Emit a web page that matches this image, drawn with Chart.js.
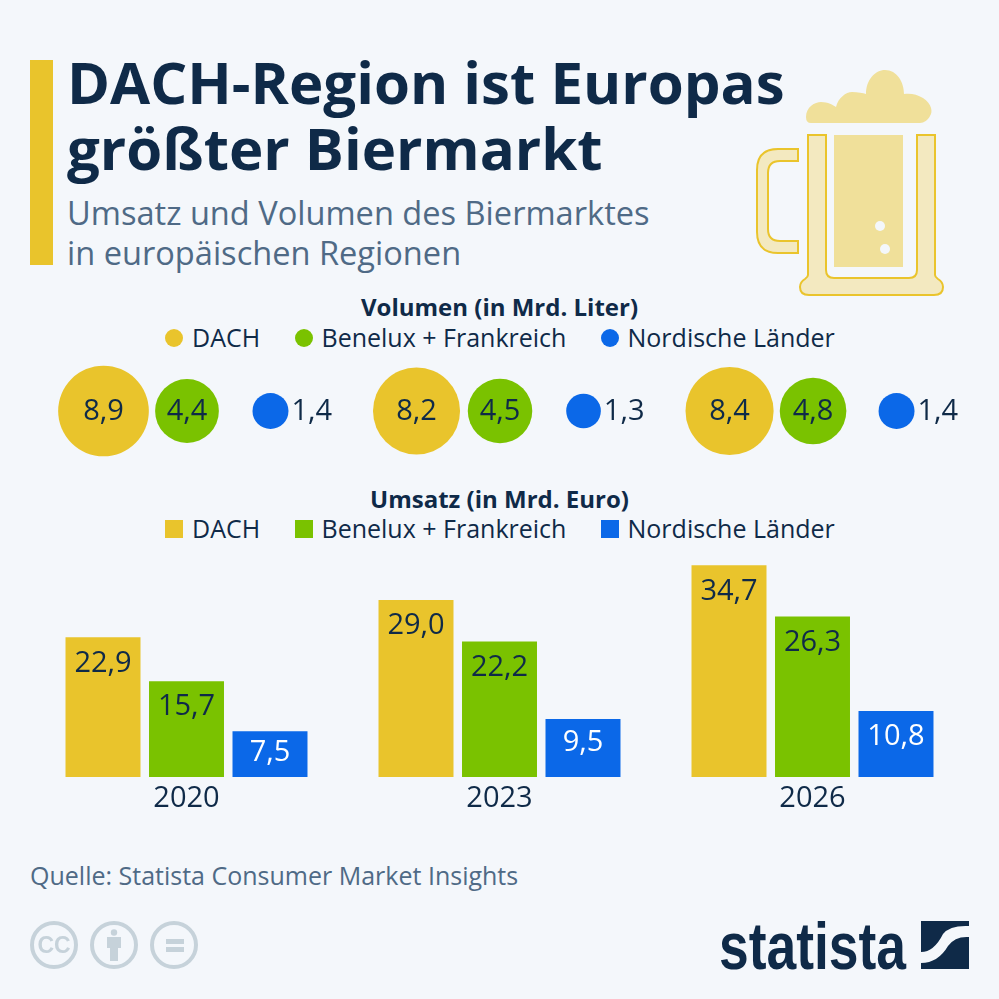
<!DOCTYPE html>
<html lang="de">
<head>
<meta charset="utf-8">
<title>DACH-Region ist Europas größter Biermarkt</title>
<script src="https://cdn.jsdelivr.net/npm/chart.js@4/dist/chart.umd.min.js"></script>
<style>
    html, body { margin: 0; padding: 0; background: #f4f7fb; }
    body { position: relative; width: 999px; height: 999px; overflow: hidden; font-family: 'Open Sans', sans-serif; color: #0f2a48; }
    .abs { position: absolute; white-space: nowrap; }
    canvas { position: absolute; }
    #accent { left: 30px; top: 60px; width: 23px; height: 205px; background: #e9c42c; }
    .title { left: 67px; font-size: 58.2px; line-height: 66px; font-weight: 700; color: #0f2a48; }
    .subtitle { left: 67px; font-size: 32.6px; line-height: 40px; color: #4f6a86; }
    .section { left: 0; width: 999px; text-align: center; font-size: 24px; line-height: 30px; font-weight: 700; }
    .legend-item { display: flex; align-items: center; height: 30px; font-size: 25px; color: #0f2a48; }
    .legend-mark { position: relative; top: 1px; width: 18px; height: 18px; margin-right: 9px; }
    #source { left: 30px; top: 859px; font-size: 25px; line-height: 32px; color: #4f6a86; }
    svg { position: absolute; left: 0; top: 0; }
</style>
</head>
<body>
<div id="accent" class="abs"></div>
<div class="abs title" style="top:49px">DACH-Region ist Europas</div>
<div class="abs title" style="top:115px">größter Biermarkt</div>
<div class="abs subtitle" style="top:193px">Umsatz und Volumen des Biermarktes</div>
<div class="abs subtitle" style="top:233px">in europäischen Regionen</div>

<div class="abs section" style="top:292px">Volumen (in Mrd. Liter)</div>
<div id="legend-volume"></div>
<canvas id="volume-chart" width="999" height="110" style="left:0;top:356px"></canvas>

<div class="abs section" style="top:484px">Umsatz (in Mrd. Euro)</div>
<div id="legend-revenue"></div>
<canvas id="revenue-chart" width="939" height="284" style="left:30.4px;top:533px"></canvas>

<div id="source" class="abs">Quelle: Statista Consumer Market Insights</div>

<svg width="999" height="999" viewBox="0 0 999 999">
    <!-- beer mug -->
    <g fill="#f0e09a">
        <path d="M811 123 Q806 123 806 117 C806 107 815 102 821 102 C828 102 833 105 836 107 C838 98 846 92 852 92 C858 92 863 93 866 94 C866 80 875 70 885 70 C897 70 904 82 904 94 C910 93 917 94 923 98 C932 104 933 112 930 116 C928 120 924 123 920 123 Z"/>
        <rect x="834" y="135" width="69" height="132"/>
    </g>
    <circle cx="880" cy="226" r="5" fill="#f4f7fb"/>
    <circle cx="885" cy="249" r="5" fill="#f4f7fb"/>
    <g fill="#f3e9c0" stroke="#eac42c" stroke-width="2">
        <path d="M808 135 H826 V270 Q826 278 834 278 H909 Q917 278 917 270 V135 H935 V275 Q935 277 938 279 Q943 282 943 287 Q943 295 934 295 H809 Q800 295 800 287 Q800 282 805 279 Q808 277 808 275 Z"/>
        <path d="M798 149 H778 Q757 149 757 170 V232 Q757 253 778 253 H798 V241 H780 Q768 241 768 229 V173 Q768 161 780 161 H798 Z"/>
    </g>
    <!-- licence icons -->
    <g fill="none" stroke="#c6d2da" stroke-width="4">
        <circle cx="54" cy="945" r="22"/>
        <circle cx="114" cy="945" r="22"/>
        <circle cx="174" cy="945" r="22"/>
    </g>
    <text x="54" y="953" text-anchor="middle" font-family="Liberation Sans" font-weight="700" font-size="23" fill="#c6d2da">CC</text>
    <g fill="#c6d2da">
        <circle cx="114" cy="932.5" r="3.2"/>
        <path d="M107 937 H121 V948 H118 V961 H110 V948 H107 Z"/>
        <rect x="166" y="939" width="18" height="5"/>
        <rect x="166" y="947" width="18" height="5"/>
    </g>
    <!-- statista logo -->
    <text x="719" y="969" textLength="187" lengthAdjust="spacingAndGlyphs" font-family="Liberation Sans Narrow, Liberation Sans" font-weight="700" font-size="66" fill="#0f2a48">statista</text>
    <g fill="#0f2a48">
        <path d="M921 921 H969 V926 Q950 925 943 934 Q934 952 921 952 Z"/>
        <path d="M969 937 Q955 936 948 946 Q938 963 921 963 V969 H969 Z"/>
    </g>
</svg>

<script>
const years = ['2020', '2023', '2026'];
const regions = ['DACH', 'Benelux + Frankreich', 'Nordische Länder'];
const regionColors = ['#e9c42c', '#7ac200', '#0b68e8'];
const barLabelColors = ['#0f2a48', '#0f2a48', '#ffffff'];

const volumeDach = [8.9, 8.2, 8.4];
const volumeBenelux = [4.4, 4.5, 4.8];
const volumeNordic = [1.4, 1.3, 1.4];

const revenueDach = [22.9, 29.0, 34.7];
const revenueBenelux = [15.7, 22.2, 26.3];
const revenueNordic = [7.5, 9.5, 10.8];

const LABEL_COLOR = '#0f2a48';
const LABEL_FONT = "29px 'Open Sans', sans-serif";

function formatValue(value) {
    return value.toFixed(1).replace('.', ',');
}

function renderLegend(id, top, round) {
    const offsets = [165, 294.5, 600.5];
    const holder = document.getElementById(id);
    regions.forEach(function(name, i) {
        const item = document.createElement('div');
        item.className = 'abs legend-item';
        item.style.left = offsets[i] + 'px';
        item.style.top = top + 'px';
        const mark = document.createElement('span');
        mark.className = 'legend-mark';
        mark.style.background = regionColors[i];
        mark.style.borderRadius = round ? '50%' : '0';
        item.appendChild(mark);
        item.appendChild(document.createTextNode(name));
        holder.appendChild(item);
    });
}

// value labels on the bubbles, small ones go next to the bubble
const bubbleLabels = {
    id: 'bubbleLabels',
    afterDatasetsDraw(chart) {
        const ctx = chart.ctx;
        ctx.save();
        ctx.font = LABEL_FONT;
        ctx.fillStyle = LABEL_COLOR;
        ctx.textBaseline = 'middle';
        chart.data.datasets.forEach(function(dataset, d) {
            chart.getDatasetMeta(d).data.forEach(function(point, i) {
                const raw = dataset.data[i];
                if (raw.r < 25) {
                    ctx.textAlign = 'left';
                    ctx.fillText(formatValue(raw.value), point.x + raw.r + 3, point.y + 1);
                } else {
                    ctx.textAlign = 'center';
                    ctx.fillText(formatValue(raw.value), point.x, point.y + 1);
                }
            });
        });
        ctx.restore();
    }
};

const barLabels = {
    id: 'barLabels',
    afterDatasetsDraw(chart) {
        const ctx = chart.ctx;
        ctx.save();
        ctx.font = LABEL_FONT;
        ctx.textAlign = 'center';
        ctx.textBaseline = 'middle';
        chart.data.datasets.forEach(function(dataset, d) {
            ctx.fillStyle = barLabelColors[d];
            chart.getDatasetMeta(d).data.forEach(function(bar, i) {
                const height = bar.base - bar.y;
                const drop = Math.min(26, 13.5 + height * 0.18);
                ctx.fillText(formatValue(dataset.data[i]), bar.x, bar.y + drop);
            });
        });
        ctx.restore();
    }
};

function renderVolumeChart() {
    const ctx = document.getElementById('volume-chart').getContext('2d');
    const groupStep = 3.749; // distance between the year groups, in bubble slots

    function bubbleData(values, slot) {
        return values.map(function(value, i) {
            return { x: i * groupStep + slot, y: 0, r: 15.2 * Math.sqrt(value), value: value };
        });
    }

    new Chart(ctx, {
        type: 'bubble',
        data: {
            datasets: [
                { label: regions[0], data: bubbleData(volumeDach, 0), backgroundColor: regionColors[0], borderWidth: 0, clip: false },
                { label: regions[1], data: bubbleData(volumeBenelux, 1), backgroundColor: regionColors[1], borderWidth: 0, clip: false },
                { label: regions[2], data: bubbleData(volumeNordic, 2), backgroundColor: regionColors[2], borderWidth: 0, clip: false }
            ]
        },
        options: {
            responsive: false,
            animation: false,
            layout: { padding: 0, autoPadding: false },
            scales: {
                x: { type: 'linear', min: -1.2395, max: 10.725, display: false },
                y: { min: -1, max: 1, display: false }
            },
            plugins: { legend: { display: false }, tooltip: { enabled: false } }
        },
        plugins: [bubbleLabels]
    });
}

function renderRevenueChart() {
    const ctx = document.getElementById('revenue-chart').getContext('2d');

    new Chart(ctx, {
        type: 'bar',
        data: {
            labels: years,
            datasets: [
                { label: regions[0], data: revenueDach, backgroundColor: regionColors[0] },
                { label: regions[1], data: revenueBenelux, backgroundColor: regionColors[1] },
                { label: regions[2], data: revenueNordic, backgroundColor: regionColors[2] }
            ]
        },
        options: {
            responsive: false,
            animation: false,
            layout: { padding: 0 },
            datasets: { bar: { categoryPercentage: 0.8003, barPercentage: 0.898, borderWidth: 0 } },
            scales: {
                x: {
                    grid: { display: false },
                    border: { display: false },
                    ticks: {
                        color: LABEL_COLOR,
                        font: { family: "'Open Sans', sans-serif", size: 29 },
                        padding: -4,
                        maxRotation: 0
                    },
                    afterFit: function(scale) { scale.height = 40; }
                },
                y: { min: 0, max: 40, display: false }
            },
            plugins: { legend: { display: false }, tooltip: { enabled: false } }
        },
        plugins: [barLabels]
    });
}

document.addEventListener('DOMContentLoaded', function() {
    renderLegend('legend-volume', 322, true);
    renderLegend('legend-revenue', 513, false);
    renderVolumeChart();
    renderRevenueChart();
});
</script>
</body>
</html>
